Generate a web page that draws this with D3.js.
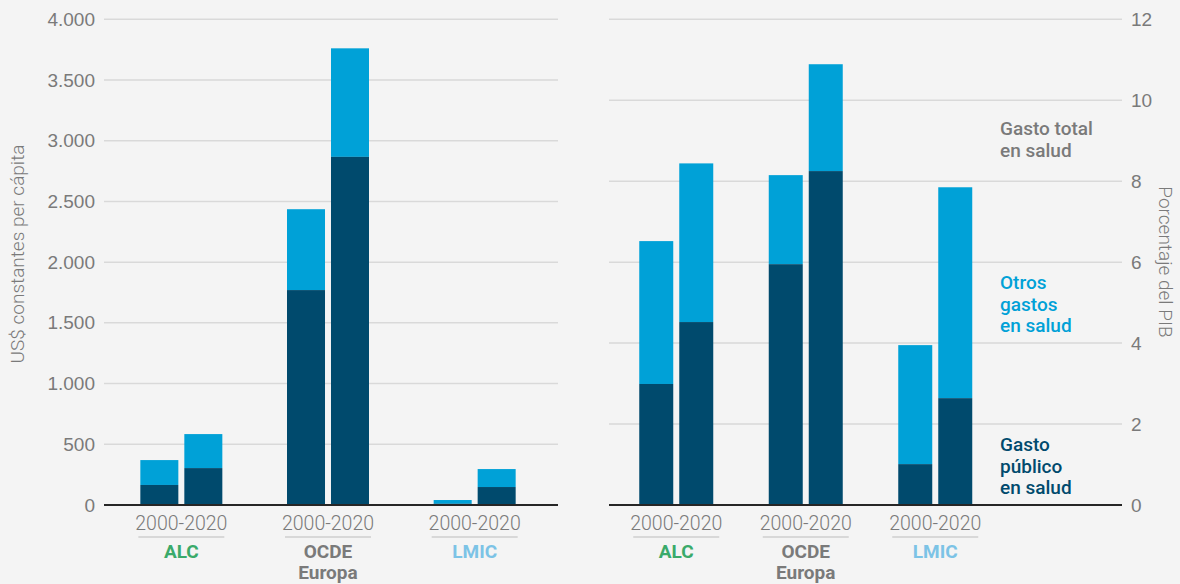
<!DOCTYPE html>
<html>
<head>
<meta charset="utf-8">
<script src="https://cdn.jsdelivr.net/npm/d3@7"></script>
<style>
  html, body { margin: 0; padding: 0; background: #f4f4f4; }
  svg { display: block; font-family: Roboto, "Open Sans", sans-serif; }
</style>
</head>
<body>
<div id="chart"></div>
<script>
// --- data ---
const groups = ['ALC', 'OCDE Europa', 'LMIC'];
const periods = ['2000', '2020'];
const periodLabel = '2000-2020';

// left panel: US$ constantes per cápita
const usdTotal = [[370, 584], [2436, 3761], [41, 296]];
const usdPublic = [[165, 304], [1770, 2867], [10, 148]];
const usdTicks = [0, 500, 1000, 1500, 2000, 2500, 3000, 3500, 4000];

// right panel: porcentaje del PIB
const pibTotal = [[6.52, 8.44], [8.15, 10.89], [3.95, 7.85]];
const pibPublic = [[2.99, 4.52], [5.95, 8.25], [1.01, 2.64]];
const pibTicks = [0, 2, 4, 6, 8, 10, 12];

const groupColors = { 'ALC': '#3aaa6a', 'OCDE Europa': '#7a7a7a', 'LMIC': '#7cc3e6' };
const legendItems = [
  { lines: ['Gasto total', 'en salud'], color: '#7a7a7a', y: 135 },
  { lines: ['Otros', 'gastos', 'en salud'], color: '#00a1d7', y: 289 },
  { lines: ['Gasto', 'público', 'en salud'], color: '#004a6d', y: 451 }
];

const DARK = '#004a6d';
const LIGHT = '#00a1d7';
const GRID = '#d9d9d9';
const TEXT = '#7a7a7a';
const W = 1180, H = 584;
const BASE = 505;

const svg = d3.select('#chart').append('svg')
  .attr('width', W)
  .attr('height', H);

svg.append('rect').attr('width', W).attr('height', H).attr('fill', '#f4f4f4');

const fmt = d3.formatLocale({ decimal: ',', thousands: '.', grouping: [3], currency: ['', ''] }).format(',d');

function panel(opts) {
  const g = svg.append('g');

  const y = d3.scaleLinear().domain(opts.domain).range([BASE, opts.top]);
  const x0 = d3.scaleBand().domain(groups).range(opts.groupRange);
  const x1 = d3.scaleBand().domain(periods)
    .range([-opts.pairWidth / 2, opts.pairWidth / 2])
    .paddingInner(opts.innerPad);

  // gridlines
  g.append('g').selectAll('line')
    .data(opts.ticks.filter(t => t !== 0))
    .join('line')
    .attr('x1', opts.gridX[0]).attr('x2', opts.gridX[1])
    .attr('y1', d => y(d)).attr('y2', d => y(d))
    .attr('stroke', GRID).attr('stroke-width', 1.5);

  // tick labels via axis
  const axis = (opts.side === 'left' ? d3.axisLeft(y) : d3.axisRight(y))
    .tickValues(opts.ticks)
    .tickFormat(opts.format)
    .tickSize(0)
    .tickPadding(0);
  const ax = g.append('g')
    .attr('transform', `translate(${opts.axisX},0)`)
    .call(axis);
  ax.select('.domain').remove();
  ax.selectAll('text')
    .attr('fill', TEXT)
    .attr('font-size', 19)
    .attr('font-weight', 300);

  // bars
  const rows = [];
  groups.forEach((grp, i) => {
    periods.forEach((p, j) => {
      rows.push({ grp, p, pub: opts.pub[i][j], tot: opts.tot[i][j] });
    });
  });
  const bars = g.append('g').selectAll('g')
    .data(rows)
    .join('g')
    .attr('transform', d => `translate(${x0(d.grp) + x0.bandwidth() / 2 + x1(d.p)},0)`);
  bars.append('rect')
    .attr('y', d => y(d.tot))
    .attr('width', x1.bandwidth())
    .attr('height', d => y(d.pub) - y(d.tot))
    .attr('fill', LIGHT);
  bars.append('rect')
    .attr('y', d => y(d.pub))
    .attr('width', x1.bandwidth())
    .attr('height', d => y(0) - y(d.pub))
    .attr('fill', DARK);

  // baseline
  g.append('line')
    .attr('x1', opts.gridX[0]).attr('x2', opts.gridX[1])
    .attr('y1', y(0)).attr('y2', y(0))
    .attr('stroke', '#262626').attr('stroke-width', 2);

  // category labels
  const cat = g.append('g').selectAll('g')
    .data(groups)
    .join('g')
    .attr('transform', d => `translate(${x0(d) + x0.bandwidth() / 2},0)`);
  cat.append('text')
    .attr('y', 530)
    .attr('text-anchor', 'middle')
    .attr('fill', TEXT)
    .attr('font-size', 19.5)
    .attr('font-weight', 300)
    .text(periodLabel);
  cat.append('line')
    .attr('x1', -43).attr('x2', 43)
    .attr('y1', 537).attr('y2', 537)
    .attr('stroke', '#cfcfcf').attr('stroke-width', 1.5);
  cat.append('text')
    .attr('text-anchor', 'middle')
    .attr('fill', d => groupColors[d])
    .attr('font-size', 19)
    .attr('font-weight', 700)
    .selectAll('tspan')
    .data(d => d.split(' '))
    .join('tspan')
    .attr('x', 0)
    .attr('y', (d, i) => 558 + i * 21)
    .text(d => d);

  // axis title
  g.append('text')
    .attr('transform', `translate(${opts.titleX},${opts.titleY}) rotate(${opts.side === 'left' ? -90 : 90})`)
    .attr('text-anchor', 'middle')
    .attr('dominant-baseline', 'middle')
    .attr('fill', TEXT)
    .attr('font-size', 19)
    .attr('font-weight', 300)
    .text(opts.title);
}

panel({
  side: 'left',
  domain: [0, 4000],
  top: 19.3,
  ticks: usdTicks,
  format: fmt,
  axisX: 95,
  gridX: [104, 558],
  groupRange: [108, 548],
  pairWidth: 82,
  innerPad: 0.136,
  pub: usdPublic,
  tot: usdTotal,
  title: 'US$  constantes per cápita',
  titleX: 19,
  titleY: 254
});

panel({
  side: 'right',
  domain: [0, 12],
  top: 19.3,
  ticks: pibTicks,
  format: d3.format('d'),
  axisX: 1131,
  gridX: [609, 1122],
  groupRange: [611.5, 1000],
  pairWidth: 74,
  innerPad: 0.15,
  pub: pibPublic,
  tot: pibTotal,
  title: 'Porcentaje del PIB',
  titleX: 1164,
  titleY: 262
});

// legend labels on the right panel
const leg = svg.append('g').selectAll('text')
  .data(legendItems)
  .join('text')
  .attr('fill', d => d.color)
  .attr('font-size', 19)
  .attr('font-weight', 500);
leg.selectAll('tspan')
  .data(d => d.lines.map((l, i) => ({ l, y: d.y + i * 21.5 })))
  .join('tspan')
  .attr('x', 1000)
  .attr('y', d => d.y)
  .text(d => d.l);
</script>
</body>
</html>
